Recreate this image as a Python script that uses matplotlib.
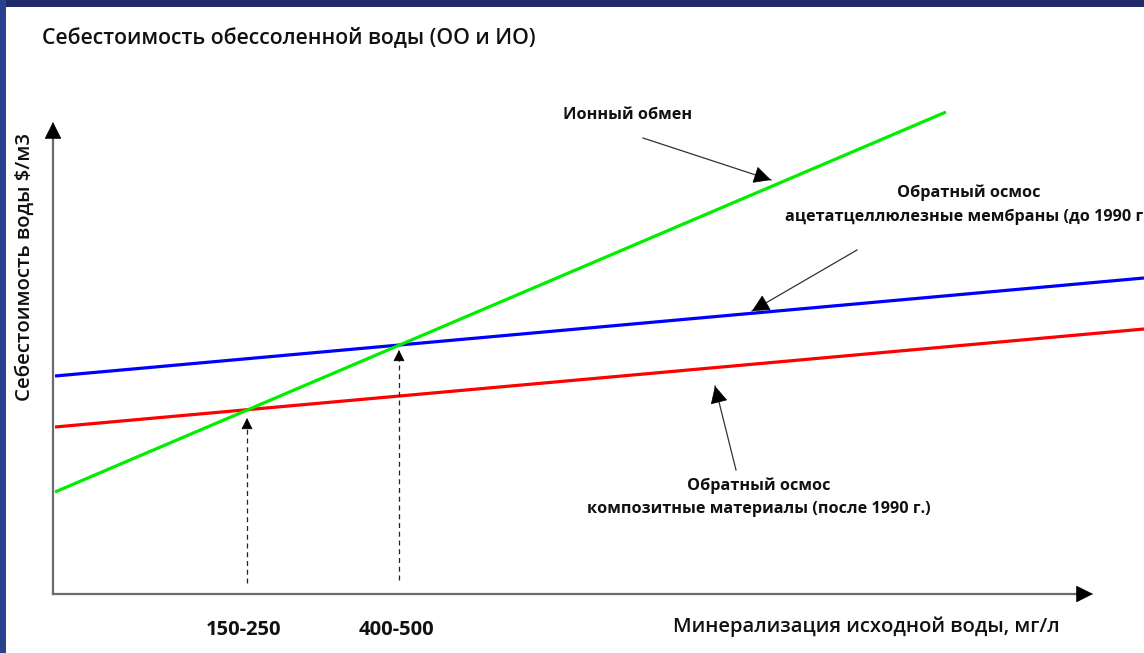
import matplotlib.pyplot as plt
from matplotlib.patches import Rectangle

W, H = 1144, 653

# schematic chart, arbitrary units (no real scale on the axes)
mineral_ro = [0.2, 109.1]
cost_ro_acetate = [21.8, 31.6]     # обратный осмос, ацетатцеллюлозные мембраны
cost_ro_composite = [16.7, 26.5]   # обратный осмос, композитные материалы
mineral_ix = [0.2, 89.3]
cost_ix = [10.2, 48.2]             # ионный обмен

break_x = [19.4, 34.6]
break_start = [1.1, 1.4]
break_tip = [17.6, 24.4]
break_labels = ['150-250', '400-500']

plt.rcParams['font.family'] = ['Open Sans', 'DejaVu Sans']

fig = plt.figure(figsize=(W / 100, H / 100), dpi=100)
fig.patch.set_facecolor('white')

# slide frame
fig.add_artist(Rectangle((0, 1 - 7 / H), 1, 7 / H, transform=fig.transFigure,
                         color='#212a6b', lw=0))
fig.add_artist(Rectangle((0, 0), 6 / W, 1, transform=fig.transFigure,
                         color='#2a4190', lw=0))

ax = fig.add_axes([53 / W, (H - 594) / H, (W - 53) / W, 500 / H])
ax.set_xlim(0, 109.1)
ax.set_ylim(0, 50)
ax.axis('off')


def head(ax, tip, tail, size):
    # solid black arrow head only
    ax.annotate('', xy=tip, xytext=tail, annotation_clip=False,
                arrowprops=dict(arrowstyle='-|>,head_length=0.8,head_width=0.4',
                                color='black', lw=0.5, shrinkA=0, shrinkB=0,
                                mutation_scale=size))


# axes with arrows
ax.plot([0, 103], [0, 0], color='#6b6b6b', lw=1.6, clip_on=False)
ax.plot([0, 0], [0, 46.2], color='#6b6b6b', lw=1.6, clip_on=False)
head(ax, (104, 0), (102.5, 0), 14)
head(ax, (0, 47.2), (0, 45.7), 14)

# lines
ax.plot(mineral_ro, cost_ro_acetate, color='#0000ff', lw=2.3, solid_capstyle='butt', clip_on=False)
ax.plot(mineral_ro, cost_ro_composite, color='#ff0000', lw=2.3, solid_capstyle='butt', clip_on=False)
ax.plot(mineral_ix, cost_ix, color='#00ee00', lw=2.3, solid_capstyle='butt', clip_on=False)

# break-even markers
for bx, b0, bt, lab in zip(break_x, break_start, break_tip, break_labels):
    ax.plot([bx, bx], [b0, bt - 0.5], color='#222222', lw=0.9, ls=(0, (4, 3)))
    head(ax, (bx, bt), (bx, bt - 0.8), 9)
    ax.text(bx - 0.3, -3.6, lab, ha='center', va='center', fontsize=14.5,
            fontweight='bold', color='#111111', clip_on=False)

# callouts
def callout(ax, tip, tail):
    ax.plot([tail[0], tip[0]], [tail[1], tip[1]], color='#333333', lw=0.9)
    dx, dy = tip[0] - tail[0], tip[1] - tail[1]
    head(ax, tip, (tip[0] - 0.1 * dx, tip[1] - 0.1 * dy), 14)


ax.text(57.5, 47.9, 'Ионный обмен', ha='center', va='center', fontsize=11.7,
        fontweight='bold', color='#111111')
callout(ax, (71.8, 41.4), (59.0, 45.6))

ax.text(91.6, 38.9, 'Обратный осмос\nацетатцеллюлезные мембраны (до 1990 г.)',
        ha='center', va='center', fontsize=11.7, fontweight='bold',
        color='#111111', linespacing=1.6, clip_on=False)
callout(ax, (69.9, 28.3), (80.4, 34.4))

ax.text(70.6, 9.7, 'Обратный осмос\nкомпозитные материалы (после 1990 г.)',
        ha='center', va='center', fontsize=11.7, fontweight='bold',
        color='#111111', linespacing=1.6)
callout(ax, (66.2, 20.8), (68.3, 12.4))

# titles
fig.text(42 / W, 1 - 38 / H, 'Себестоимость обессоленной воды (ОО и ИО)',
         ha='left', va='center', fontsize=15.3, fontweight=600, color='#111111')
fig.text(866 / W, 1 - 627 / H, 'Минерализация исходной воды, мг/л',
         ha='center', va='center', fontsize=14.6, fontweight=600, color='#111111')
fig.text(25 / W, 1 - 267 / H, 'Себестоимость воды $/м3', rotation=90,
         ha='center', va='center', fontsize=14.7, fontweight=600, color='#111111')

fig.savefig('out.png', dpi=100)
